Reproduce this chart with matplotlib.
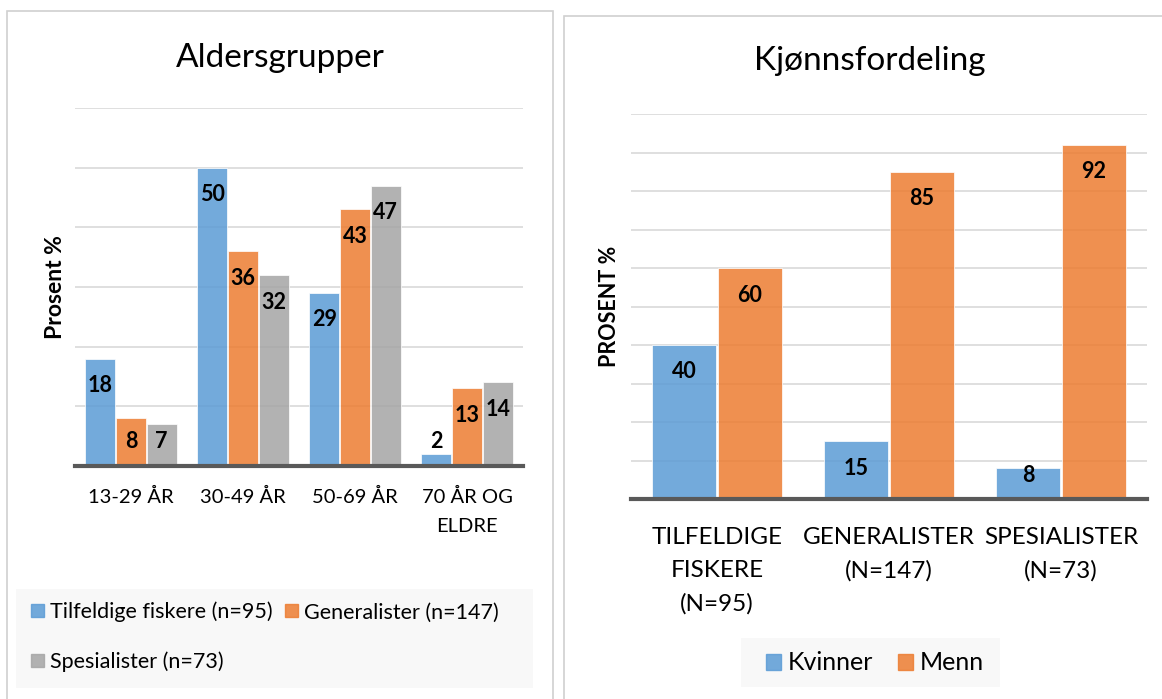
import matplotlib.pyplot as plt
from matplotlib.patches import Rectangle, Patch

plt.rcParams['font.family'] = ['Lato', 'DejaVu Sans']

# left panel: age groups
age_groups = ['13-29 ÅR', '30-49 ÅR', '50-69 ÅR', '70 ÅR OG\nELDRE']
tilfeldige_age = [18, 50, 29, 2]
generalister_age = [8, 36, 43, 13]
spesialister_age = [7, 32, 47, 14]
age_series = ['Tilfeldige fiskere (n=95)', 'Generalister (n=147)', 'Spesialister (n=73)']

# right panel: gender
groups = ['TILFELDIGE\nFISKERE\n(N=95)', 'GENERALISTER\n(N=147)', 'SPESIALISTER\n(N=73)']
kvinner = [40, 15, 8]
menn = [60, 85, 92]
sex_series = ['Kvinner', 'Menn']

BLUE, ORANGE, GRAY = '#5B9BD5', '#ED7D31', '#A5A5A5'
W, H = 1162, 699


def fx(px):
    return px / W


def fy(py):
    return 1 - py / H


def style_axes(ax, ymax, step):
    ax.set_ylim(0, ymax)
    ax.set_yticks(range(0, ymax + 1, step))
    ax.set_yticklabels([])
    ax.tick_params(axis='y', length=0)
    ax.grid(axis='y', color='#D9D9D9', lw=1.2)
    ax.set_axisbelow(True)
    for s in ['left', 'right', 'top']:
        ax.spines[s].set_visible(False)
    ax.spines['bottom'].set_color('#595959')
    ax.spines['bottom'].set_linewidth(3)


def bar_labels(ax, bars, values, ppu):
    for b, v in zip(bars, values):
        y = max(v - 27 / ppu, 24 / ppu)
        ax.text(b.get_x() + b.get_width() / 2, y, str(v), ha='center', va='center',
                fontsize=15.5, fontweight='bold', color='black')


fig = plt.figure(figsize=(W / 100, H / 100), dpi=100)

# panel frames
fig.add_artist(Rectangle((fx(7), fy(720)), fx(553) - fx(7), fy(11) - fy(720),
                         transform=fig.transFigure, fill=False, ec='#D0D0D0', lw=1.2))
fig.add_artist(Rectangle((fx(564), fy(720)), fx(1180) - fx(564), fy(16) - fy(720),
                         transform=fig.transFigure, fill=False, ec='#D0D0D0', lw=1.2))
# legend backgrounds
fig.add_artist(Rectangle((fx(16), fy(688)), fx(533) - fx(16), fy(589) - fy(688),
                         transform=fig.transFigure, fc='#F8F8F8', ec='none'))
fig.add_artist(Rectangle((fx(741), fy(687)), fx(1000) - fx(741), fy(638) - fy(687),
                         transform=fig.transFigure, fc='#F8F8F8', ec='none'))

# ---- left chart
ax1 = fig.add_axes([fx(75), fy(466), fx(523) - fx(75), fy(108) - fy(466)])
style_axes(ax1, 60, 10)
x = range(len(age_groups))
w, step = 0.27, 0.274
ppu1 = (466 - 108) / 60
for vals, col, off in [(tilfeldige_age, BLUE, -step), (generalister_age, ORANGE, 0),
                       (spesialister_age, GRAY, step)]:
    bars = ax1.bar([i + off for i in x], vals, w, color=col, alpha=0.85,
                   edgecolor='white', linewidth=0.6)
    bar_labels(ax1, bars, vals, ppu1)
ax1.set_xlim(-0.5, len(age_groups) - 0.5)
ax1.set_xticks(list(x), age_groups, fontsize=14.5, linespacing=1.85)
ax1.tick_params(axis='x', length=0, pad=16)
ax1.set_ylabel('Prosent %', fontsize=16.5, fontweight='bold')
ax1.yaxis.set_label_coords((66 - 75) / 448, 0.5)
fig.text(fx(280), fy(67), 'Aldersgrupper', ha='center', va='baseline', fontsize=24)

handles = [Patch(color=BLUE, alpha=0.85), Patch(color=GRAY, alpha=0.85),
           Patch(color=ORANGE, alpha=0.85)]
fig.legend(handles, [age_series[0], age_series[2], age_series[1]], ncol=2,
           loc='center', bbox_to_anchor=(fx(265), fy(637)), frameon=False,
           fontsize=15.5, handlelength=0.6, handleheight=0.56, handletextpad=0.28,
           columnspacing=0.6, labelspacing=1.35, borderpad=0)

# ---- right chart
ax2 = fig.add_axes([fx(631), fy(499), fx(1147) - fx(631), fy(114) - fy(499)])
style_axes(ax2, 100, 10)
x2 = range(len(groups))
w2, off2 = 0.372, 0.19
ppu2 = (499 - 114) / 100
for vals, col, off in [(kvinner, BLUE, -off2), (menn, ORANGE, off2)]:
    bars = ax2.bar([i + off for i in x2], vals, w2, color=col, alpha=0.85,
                   edgecolor='white', linewidth=0.6)
    bar_labels(ax2, bars, vals, ppu2)
ax2.set_xlim(-0.5, len(groups) - 0.5)
ax2.set_xticks(list(x2), groups, fontsize=17.5, linespacing=1.7)
ax2.tick_params(axis='x', length=0, pad=20)
ax2.set_ylabel('PROSENT %', fontsize=15.5, fontweight='bold')
ax2.yaxis.set_label_coords((620 - 631) / 516, 0.5)
fig.text(fx(870), fy(70), 'Kjønnsfordeling', ha='center', va='baseline', fontsize=24)

fig.legend([Patch(color=BLUE, alpha=0.85), Patch(color=ORANGE, alpha=0.85)], sex_series,
           ncol=2, loc='center', bbox_to_anchor=(fx(875), fy(663)), frameon=False,
           fontsize=18, handlelength=0.6, handleheight=0.6, handletextpad=0.28,
           columnspacing=0.96, borderpad=0)

fig.savefig('out.png', dpi=100)
